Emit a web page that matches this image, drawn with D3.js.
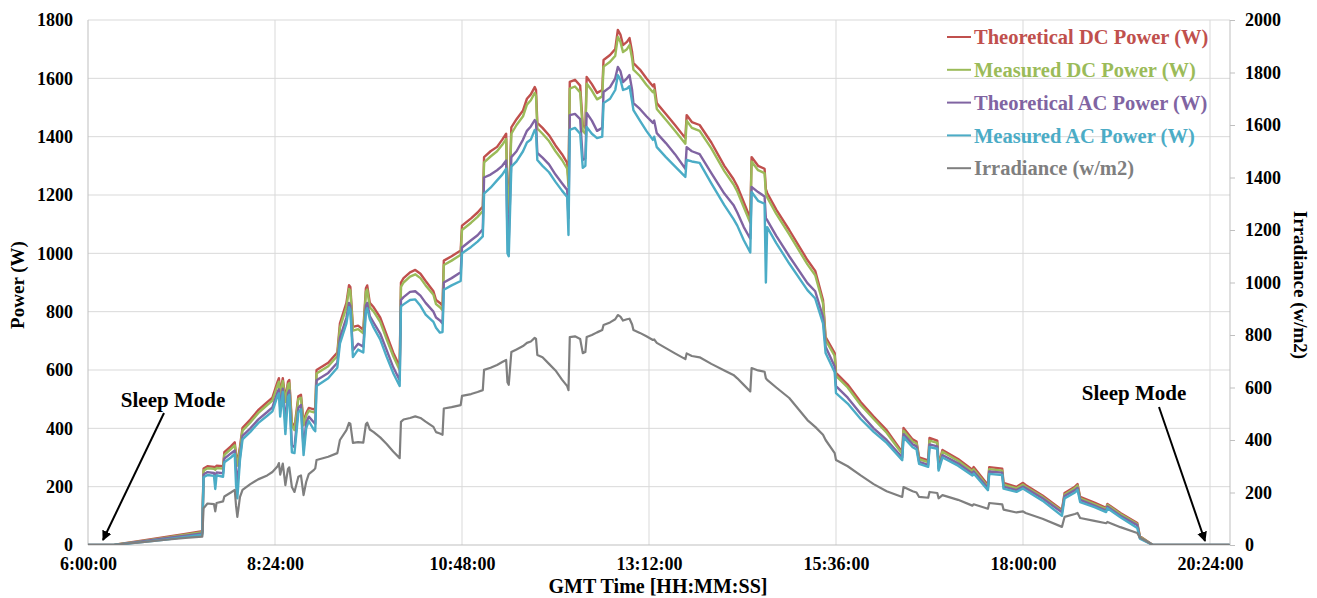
<!DOCTYPE html>
<html>
<head>
<meta charset="utf-8">
<script src="https://cdn.jsdelivr.net/npm/d3@7/dist/d3.min.js"></script>
<style>
  html, body { margin: 0; padding: 0; background: #fff; }
  svg { display: block; }
  text { font-family: "Liberation Serif", "Times New Roman", serif; }
</style>
</head>
<body>
<svg id="chart" width="1317" height="598"></svg>
<script>
// Sample times (local clock) for every series
const times = [
  "6:00","6:20","6:22","6:40","7:00","7:15","7:28","7:29","7:32","7:37","7:38","7:39","7:44","7:45","7:50","7:53","7:54","7:55","7:57","7:59",
  "8:05","8:11","8:18","8:22","8:26","8:27","8:28","8:30","8:32","8:34","8:35","8:37","8:39","8:42","8:44","8:46","8:48","8:50","8:54","8:55",
  "8:56","9:05","9:12","9:14","9:19","9:21","9:22","9:24","9:28","9:32","9:34","9:35","9:37","9:40","9:45","9:50","9:55","10:00","10:01","10:03",
  "10:08","10:12","10:16","10:20","10:26","10:28","10:31","10:33","10:34","10:40","10:47","10:48","10:55","11:00","11:04","11:05","11:10","11:15","11:19","11:22",
  "11:23","11:24","11:26","11:30","11:35","11:38","11:41","11:44","11:45","11:46","11:50","11:55","12:00","12:05","12:09","12:10","12:11","12:15","12:19","12:21",
  "12:23","12:24","12:28","12:32","12:36","12:37","12:42","12:46","12:48","12:50","12:52","12:55","12:57","12:59","13:00","13:05","13:10","13:15","13:16","13:18",
  "13:25","13:32","13:40","13:41","13:45","13:51","14:00","14:10","14:17","14:20","14:25","14:30","14:31","14:36","14:41","14:42","14:43","14:50","15:00","15:14",
  "15:20","15:26","15:28","15:35","15:36","15:45","15:55","16:05","16:15","16:27","16:28","16:35","16:38","16:40","16:47","16:48","16:54","16:55","16:58","17:10",
  "17:21","17:22","17:33","17:34","17:44","17:45","17:55","18:00","18:02","18:15","18:30","18:32","18:40","18:42","18:44","18:55","19:04","19:05","19:15","19:28",
  "19:30","19:40","20:39"
];

// Theoretical DC power (W)
const theoreticalDC = [
  0,0,2,14,28,38,47,262,270,268,266,272,270,318,338,352,310,282,336,402,
  430,462,490,505,560,572,520,572,500,560,566,420,402,510,515,420,452,470,465,470,
  600,625,660,760,830,891,885,748,752,738,880,890,830,815,780,720,660,612,900,915,
  935,943,930,905,870,840,830,820,975,990,1010,1095,1120,1140,1160,1330,1350,1365,1390,1410,
  1200,1150,1432,1460,1490,1530,1545,1570,1560,1447,1430,1405,1370,1340,1310,1250,1588,1595,1575,1440,
  1430,1605,1580,1550,1560,1663,1680,1700,1766,1750,1714,1725,1738,1690,1652,1630,1600,1573,1580,1515,
  1478,1440,1395,1474,1450,1440,1380,1300,1255,1230,1175,1120,1330,1300,1290,1220,1207,1150,1080,977,
  940,840,713,658,590,550,490,440,394,318,401,362,355,300,290,367,358,275,326,295,
  258,267,206,267,262,213,199,213,206,170,120,178,200,209,165,145,127,141,110,75,
  30,0,0
];

// Measured DC power (W)
const measuredDC = [
  0,0,2,12,25,35,44,255,263,261,258,264,262,309,329,342,300,272,326,392,
  420,452,480,495,548,560,510,562,490,550,555,410,394,500,505,410,442,460,455,460,
  588,613,648,745,815,878,872,735,740,726,868,876,815,800,765,705,648,600,885,900,
  920,928,915,890,858,826,815,805,960,975,995,1080,1105,1125,1145,1312,1332,1350,1372,1392,
  1180,1140,1410,1440,1470,1510,1525,1550,1540,1428,1410,1385,1350,1320,1290,1230,1565,1572,1552,1420,
  1410,1582,1558,1528,1538,1640,1657,1677,1742,1725,1690,1700,1714,1668,1630,1608,1578,1552,1560,1495,
  1458,1420,1376,1455,1430,1420,1360,1282,1237,1212,1158,1105,1315,1285,1275,1205,1192,1135,1065,962,
  925,828,702,648,580,540,480,432,385,312,392,355,348,294,284,358,350,270,320,289,
  252,260,200,260,255,207,194,207,200,165,116,172,195,204,160,140,123,137,106,72,
  28,0,0
];

// Theoretical AC power (W)
const theoreticalAC = [
  0,0,1,11,23,32,40,242,250,247,222,249,246,296,314,324,258,205,302,374,
  400,430,456,472,525,534,472,536,420,520,530,342,336,470,480,330,420,440,420,415,
  565,590,625,710,780,830,820,668,690,680,820,830,785,762,725,668,610,565,840,850,
  868,870,855,830,800,780,770,760,900,915,935,1020,1045,1062,1082,1260,1270,1285,1300,1318,
  1060,1046,1330,1350,1390,1420,1435,1457,1450,1344,1328,1305,1270,1240,1217,1120,1474,1478,1460,1320,
  1325,1481,1455,1420,1430,1553,1570,1600,1639,1625,1587,1600,1611,1560,1515,1495,1470,1447,1455,1412,
  1378,1340,1290,1364,1350,1340,1275,1205,1166,1140,1090,1050,1228,1210,1195,1120,1114,1060,990,898,
  870,782,680,612,545,505,450,400,360,300,380,345,338,285,275,345,338,262,308,280,
  245,252,195,252,248,200,188,200,195,160,112,168,188,196,155,135,118,132,100,68,
  25,0,0
];

// Measured AC power (W)
const measuredAC = [
  0,0,1,9,19,28,35,232,240,237,192,239,234,284,300,312,205,160,290,362,
  388,418,443,458,512,520,440,525,380,508,515,318,315,455,465,308,400,425,395,390,
  545,572,608,690,760,815,805,644,670,660,800,812,775,745,705,645,590,545,818,825,
  840,842,820,790,765,745,728,730,875,890,905,1000,1022,1040,1058,1205,1225,1250,1270,1290,
  1000,990,1297,1315,1350,1380,1390,1423,1415,1320,1300,1278,1245,1215,1193,1063,1423,1430,1410,1293,
  1300,1433,1410,1395,1400,1515,1530,1560,1611,1595,1560,1565,1573,1520,1491,1455,1420,1389,1400,1364,
  1330,1298,1262,1320,1315,1310,1240,1165,1118,1095,1045,1003,1210,1180,1170,900,1090,1035,965,874,
  845,760,658,592,521,485,432,388,350,291,370,335,328,278,268,336,330,255,300,272,
  238,245,188,244,240,193,182,194,188,152,100,160,180,189,147,130,113,126,95,58,
  22,0,0
];

// Irradiance (W/m2), secondary axis
const irradiance = [
  0,0,2,10,20,27,32,140,158,156,128,160,166,185,200,210,150,107,182,210,
  232,250,265,278,300,312,268,310,228,290,296,221,202,260,265,190,240,270,286,292,
  324,336,350,400,438,465,462,389,392,390,460,466,440,430,410,385,356,331,469,478,
  484,490,484,470,450,430,425,420,520,525,533,568,575,583,590,667,675,686,697,705,
  620,610,735,745,758,770,775,789,785,724,715,690,665,630,605,590,792,795,785,731,
  735,792,800,810,819,838,848,860,876,870,855,860,862,840,819,808,795,781,783,770,
  750,730,708,730,720,715,690,665,648,635,610,585,674,665,660,635,629,600,560,476,
  450,420,400,350,324,300,265,232,205,183,221,205,200,183,180,202,198,178,190,172,
  150,155,138,160,155,135,124,128,122,100,69,107,118,122,103,92,83,88,68,46,
  28,0,0
];

// Axis tick labels
const timeTicks = ["6:00:00","8:24:00","10:48:00","13:12:00","15:36:00","18:00:00","20:24:00"];
const powerTicks = [0,200,400,600,800,1000,1200,1400,1600,1800];
const irradianceTicks = [0,200,400,600,800,1000,1200,1400,1600,1800,2000];

const seriesNames = [
  "Theoretical DC Power (W)",
  "Measured DC Power (W)",
  "Theoretical AC Power (W)",
  "Measured AC Power (W)",
  "Irradiance (w/m2)"
];
const seriesColors = ["#C0504D", "#9BBB59", "#8064A2", "#4BACC6", "#7F7F7F"];

const svg = d3.select("#chart");
const plot = { left: 88, right: 1230, top: 20, bottom: 545 };

const parseHM = d3.timeParse("%H:%M");
const parseHMS = d3.timeParse("%H:%M:%S");
const t = times.map(parseHM);

const x = d3.scaleTime()
  .domain([parseHMS("6:00:00"), parseHMS("20:24:00")])
  .range([plot.left, 1210]);
const yPower = d3.scaleLinear().domain([0, 1800]).range([plot.bottom, plot.top]);
const yIrr = d3.scaleLinear().domain([0, 2000]).range([plot.bottom, plot.top]);

const gridColor = "#D9D9D9";
const plainNumber = d3.format("d");

// horizontal gridlines
svg.append("g")
  .selectAll("line")
  .data(powerTicks.slice(1))
  .join("line")
  .attr("x1", plot.left).attr("x2", plot.right)
  .attr("y1", d => yPower(d)).attr("y2", d => yPower(d))
  .attr("stroke", gridColor).attr("stroke-width", 1);

// vertical gridlines
svg.append("g")
  .selectAll("line")
  .data(timeTicks.slice(1))
  .join("line")
  .attr("x1", d => x(parseHMS(d))).attr("x2", d => x(parseHMS(d)))
  .attr("y1", plot.top).attr("y2", plot.bottom)
  .attr("stroke", gridColor).attr("stroke-width", 1);

// axis frame lines
svg.append("line").attr("x1", plot.left).attr("x2", plot.left)
  .attr("y1", plot.top).attr("y2", plot.bottom).attr("stroke", "#BFBFBF");
svg.append("line").attr("x1", plot.right).attr("x2", plot.right)
  .attr("y1", plot.top).attr("y2", plot.bottom).attr("stroke", "#BFBFBF");
svg.append("line").attr("x1", plot.left).attr("x2", plot.right)
  .attr("y1", plot.bottom).attr("y2", plot.bottom).attr("stroke", "#BFBFBF");

function styleTickText(sel) {
  sel.selectAll("text")
    .attr("font-family", "Liberation Serif, serif")
    .attr("font-size", 18).attr("font-weight", "bold").attr("fill", "#000");
}

// left axis
const leftAxis = svg.append("g")
  .attr("transform", `translate(${plot.left},0)`)
  .call(d3.axisLeft(yPower).tickValues(powerTicks).tickFormat(plainNumber)
    .tickSize(0).tickPadding(15));
leftAxis.select(".domain").remove();
styleTickText(leftAxis);

// right axis
const rightAxis = svg.append("g")
  .attr("transform", `translate(${plot.right},0)`)
  .call(d3.axisRight(yIrr).tickValues(irradianceTicks).tickFormat(plainNumber)
    .tickSize(5).tickPadding(10));
rightAxis.select(".domain").remove();
rightAxis.selectAll("line").attr("stroke", "#BFBFBF");
styleTickText(rightAxis);

// bottom axis
const bottomAxis = svg.append("g")
  .attr("transform", `translate(0,${plot.bottom})`)
  .call(d3.axisBottom(x)
    .tickValues(timeTicks.map(parseHMS))
    .tickFormat(d3.timeFormat("%-H:%M:%S"))
    .tickSize(0).tickPadding(12));
bottomAxis.select(".domain").remove();
styleTickText(bottomAxis);

// series lines
svg.append("clipPath").attr("id", "plotClip")
  .append("rect")
  .attr("x", plot.left).attr("y", plot.top - 2)
  .attr("width", plot.right - plot.left).attr("height", plot.bottom - plot.top + 2);

const powerSeries = [theoreticalDC, measuredDC, theoreticalAC, measuredAC];
const lines = svg.append("g").attr("clip-path", "url(#plotClip)");

powerSeries.forEach((vals, i) => {
  const line = d3.line().x((d, j) => x(t[j])).y(d => yPower(d));
  lines.append("path")
    .datum(vals)
    .attr("d", line)
    .attr("fill", "none")
    .attr("stroke", seriesColors[i])
    .attr("stroke-width", 2.4)
    .attr("stroke-linejoin", "round");
});

const irrLine = d3.line().x((d, j) => x(t[j])).y(d => yIrr(d));
lines.append("path")
  .datum(irradiance)
  .attr("d", irrLine)
  .attr("fill", "none")
  .attr("stroke", seriesColors[4])
  .attr("stroke-width", 2.2)
  .attr("stroke-linejoin", "round");

// axis titles
svg.append("text")
  .attr("x", 658).attr("y", 593)
  .attr("text-anchor", "middle")
  .attr("font-size", 20).attr("font-weight", "bold")
  .text("GMT Time [HH:MM:SS]");

svg.append("text")
  .attr("transform", "translate(24,285) rotate(-90)")
  .attr("text-anchor", "middle")
  .attr("font-size", 19).attr("font-weight", "bold")
  .text("Power  (W)");

svg.append("text")
  .attr("transform", "translate(1294,285) rotate(90)")
  .attr("text-anchor", "middle")
  .attr("font-size", 19).attr("font-weight", "bold")
  .text("Irradiance (w/m2)");

// legend
const legend = svg.append("g");
seriesNames.forEach((name, i) => {
  const yy = 37 + i * 32.8;
  legend.append("line")
    .attr("x1", 947).attr("x2", 971)
    .attr("y1", yy).attr("y2", yy)
    .attr("stroke", seriesColors[i]).attr("stroke-width", 2);
  legend.append("text")
    .attr("x", 974).attr("y", yy).attr("dy", "0.35em")
    .attr("font-size", 20.5).attr("font-weight", "bold")
    .attr("fill", seriesColors[i])
    .text(name);
});

// sleep mode annotations
svg.append("defs").append("marker")
  .attr("id", "arrowHead")
  .attr("viewBox", "0 0 10 10")
  .attr("refX", 9).attr("refY", 5)
  .attr("markerWidth", 5).attr("markerHeight", 5)
  .attr("orient", "auto")
  .append("path").attr("d", "M0,0 L10,5 L0,10 z").attr("fill", "#000");

const notes = [
  { label: "Sleep Mode", tx: 173, ty: 400, from: [164, 413], to: [103, 540] },
  { label: "Sleep Mode", tx: 1134, ty: 393, from: [1159, 407], to: [1205, 541] }
];
notes.forEach(n => {
  svg.append("text")
    .attr("x", n.tx).attr("y", n.ty).attr("dy", "0.35em")
    .attr("text-anchor", "middle")
    .attr("font-size", 21).attr("font-weight", "bold")
    .text(n.label);
  svg.append("line")
    .attr("x1", n.from[0]).attr("y1", n.from[1])
    .attr("x2", n.to[0]).attr("y2", n.to[1])
    .attr("stroke", "#000").attr("stroke-width", 2)
    .attr("marker-end", "url(#arrowHead)");
});
</script>
</body>
</html>
